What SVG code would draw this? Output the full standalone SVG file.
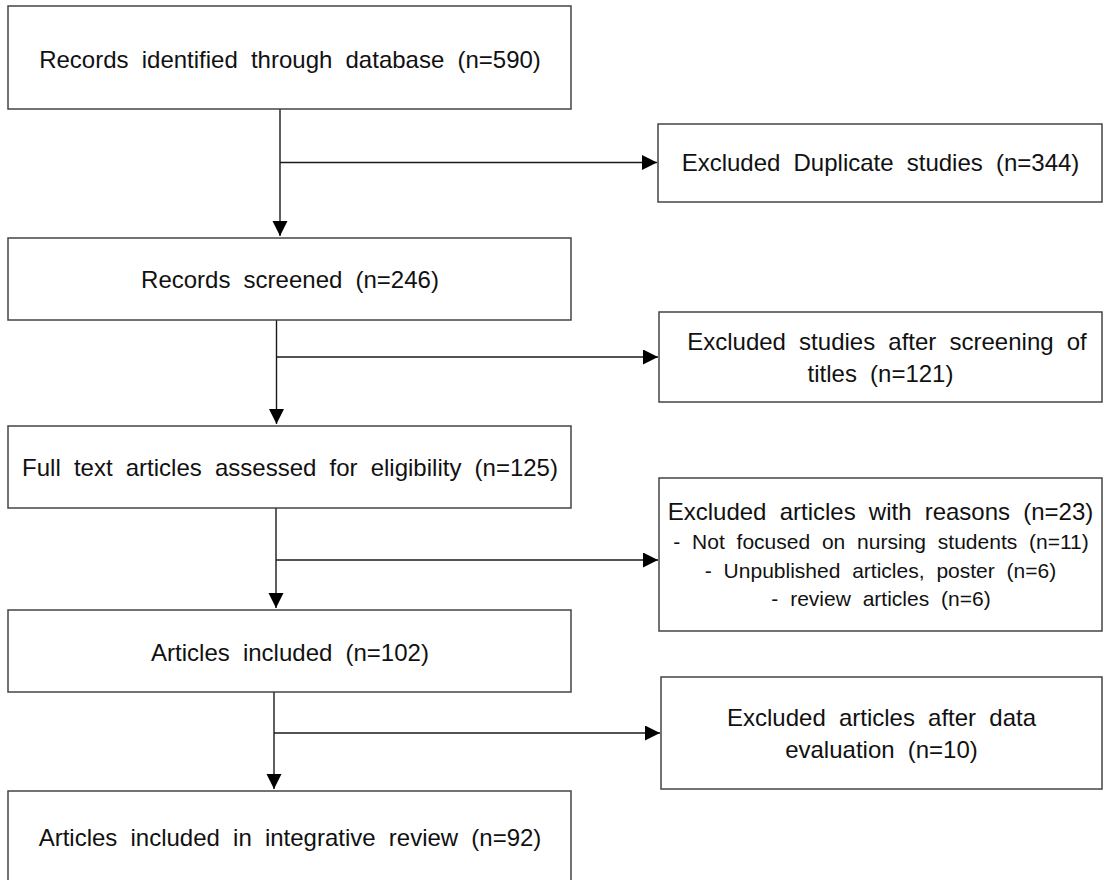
<svg xmlns="http://www.w3.org/2000/svg" width="1103" height="880" viewBox="0 0 1103 880">
<style>
.box{fill:#fff;stroke:#444;stroke-width:1.5}
.t{font-family:"Liberation Sans",Arial,sans-serif;font-size:24px;fill:#111;text-anchor:middle;word-spacing:6.5px}
.s{font-size:21px;word-spacing:6px}
.ln{fill:none;stroke:#1a1a1a;stroke-width:1.4}
</style>
<defs>
<marker id="ah" markerUnits="userSpaceOnUse" markerWidth="16" markerHeight="16" refX="15" refY="7.5" orient="auto">
<path d="M0,0 L15,7.5 L0,15 Z" fill="#000"/>
</marker>
</defs>
<rect width="1103" height="880" fill="#fff"/>
<g id="connectors">
<path class="ln" d="M280,109 V236" marker-end="url(#ah)"/>
<path class="ln" d="M280,162.5 H657" marker-end="url(#ah)"/>
<path class="ln" d="M276.5,320 V424" marker-end="url(#ah)"/>
<path class="ln" d="M276.5,357 H658" marker-end="url(#ah)"/>
<path class="ln" d="M276,508 V608" marker-end="url(#ah)"/>
<path class="ln" d="M276,560 H658" marker-end="url(#ah)"/>
<path class="ln" d="M274,692 V789" marker-end="url(#ah)"/>
<path class="ln" d="M274,733 H660" marker-end="url(#ah)"/>
</g>
<g id="n1"><rect class="box" x="8" y="6" width="563" height="103"/><text class="t" x="290" y="68">Records identified through database (n=590)</text></g>
<g id="n2"><rect class="box" x="8" y="238" width="563" height="82"/><text class="t" x="290" y="288">Records screened (n=246)</text></g>
<g id="n3"><rect class="box" x="8" y="426" width="563" height="82"/><text class="t" x="290" y="476">Full text articles assessed for eligibility (n=125)</text></g>
<g id="n4"><rect class="box" x="8" y="610" width="563" height="82"/><text class="t" x="290" y="661">Articles included (n=102)</text></g>
<g id="n5"><rect class="box" x="8" y="791" width="563" height="110"/><text class="t" x="290" y="846">Articles included in integrative review (n=92)</text></g>
<g id="e1"><rect class="box" x="658" y="124" width="444" height="78"/><text class="t" x="880.5" y="171">Excluded Duplicate studies (n=344)</text></g>
<g id="e2"><rect class="box" x="659" y="312" width="443" height="90"/><text class="t" x="887" y="350">Excluded studies after screening of</text><text class="t" x="880.5" y="382">titles (n=121)</text></g>
<g id="e3"><rect class="box" x="659" y="478" width="443" height="153"/><text class="t" x="880.5" y="520">Excluded articles with reasons (n=23)</text><text class="t s" x="881" y="549">- Not focused on nursing students (n=11)</text><text class="t s" x="880.5" y="578">- Unpublished articles, poster (n=6)</text><text class="t s" x="881" y="606">- review articles (n=6)</text></g>
<g id="e4"><rect class="box" x="661" y="677" width="441" height="112"/><text class="t" x="881.5" y="726">Excluded articles after data</text><text class="t" x="881.5" y="758">evaluation (n=10)</text></g>
</svg>
